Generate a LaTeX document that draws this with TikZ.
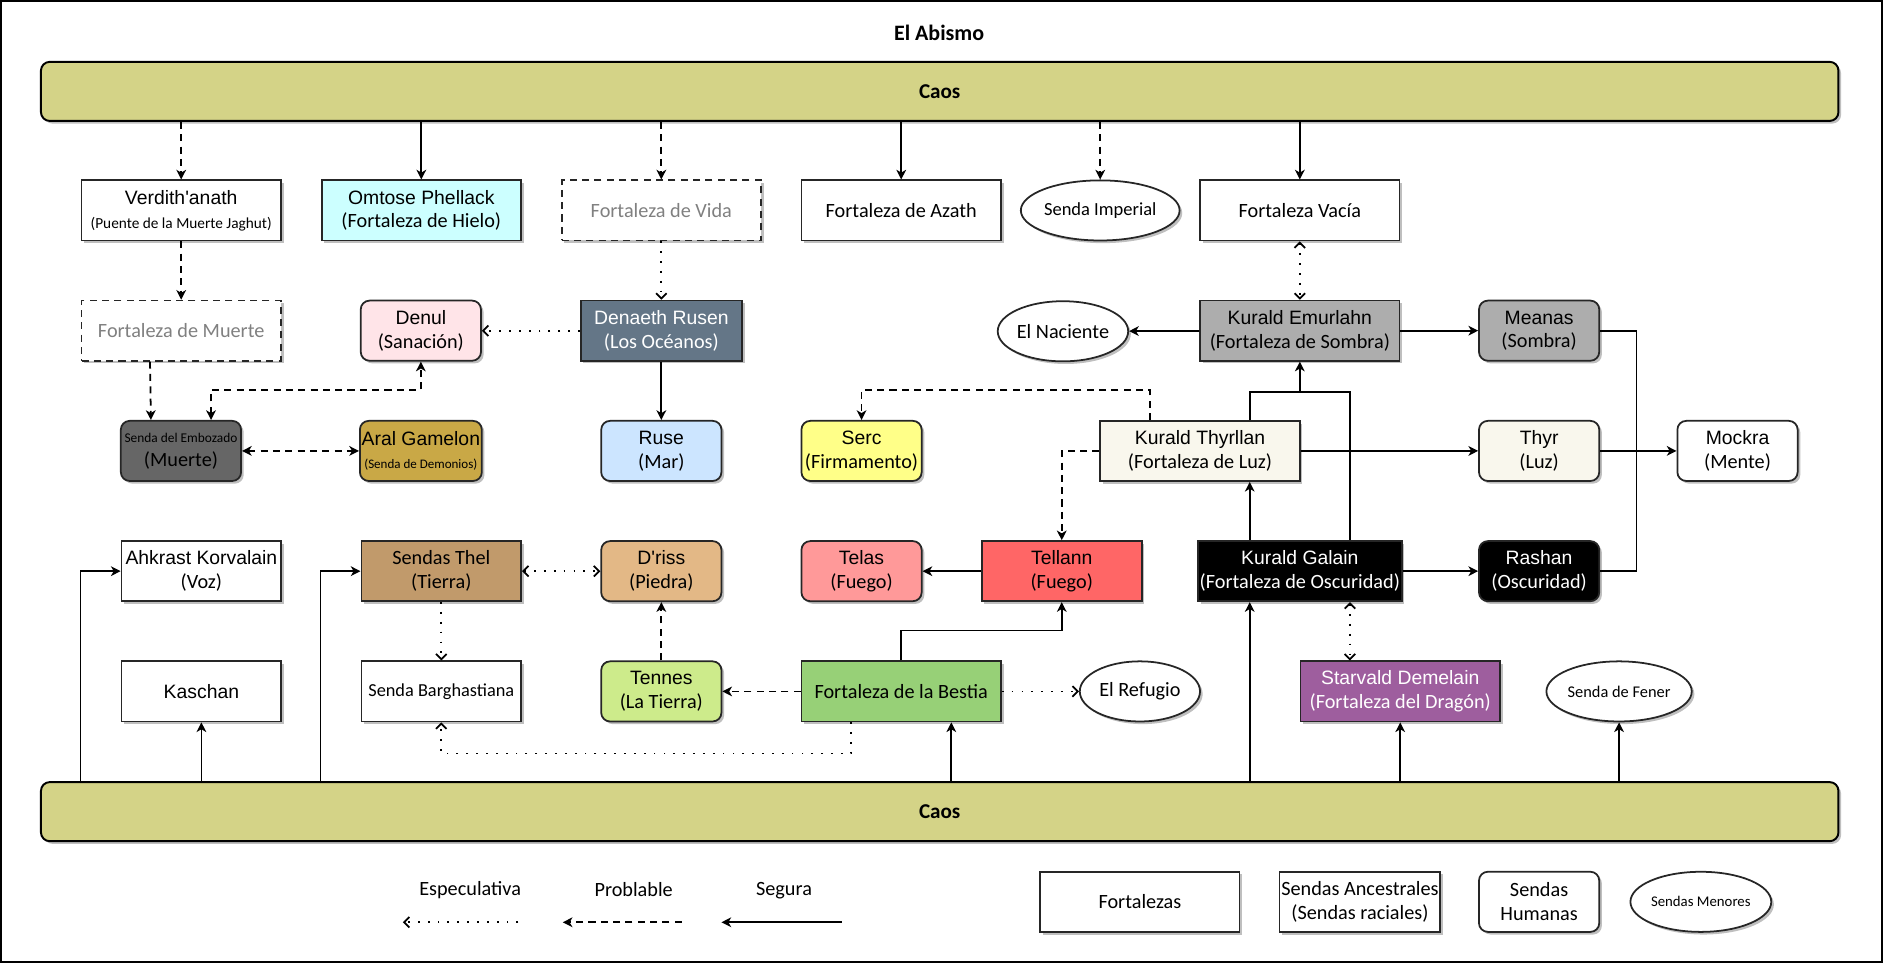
\documentclass[tikz,border=0pt]{standalone}
\usepackage{fontspec}
\setmainfont{Carlito}
\newfontfamily\arialf{Liberation Sans}
\usetikzlibrary{arrows.meta,calc,shapes.geometric,shadows}

\definecolor{caosfill}{HTML}{D4D387}
\definecolor{hielo}{HTML}{CCFFFF}
\definecolor{sanacion}{HTML}{FFE4E8}
\definecolor{oceanos}{HTML}{647687}
\definecolor{sombra}{HTML}{ADADAD}
\definecolor{muertef}{HTML}{666666}
\definecolor{demonios}{HTML}{C9A846}
\definecolor{mar}{HTML}{CCE5FF}
\definecolor{firmamento}{HTML}{FFFF88}
\definecolor{luz}{HTML}{F9F7ED}
\definecolor{tierra}{HTML}{C19A6B}
\definecolor{piedra}{HTML}{E3B886}
\definecolor{fuegoa}{HTML}{FF9999}
\definecolor{fuegob}{HTML}{FF6666}
\definecolor{latierra}{HTML}{CDEB8B}
\definecolor{bestiaf}{HTML}{97D077}
\definecolor{dragon}{HTML}{9E5E9E}
\definecolor{gristexto}{HTML}{808080}

\newcommand{\nom}[1]{{\arialf\fontsize{11}{13.5}\selectfont #1}}
\newcommand{\chico}{\fontsize{8.7}{13.5}\selectfont}

\tikzset{
  >={Stealth[length=5.5pt,width=5.5pt,inset=1.6pt]},
  base/.style={draw=black!85, fill=white, line width=1pt, inner sep=1pt, align=center,
    minimum height=1.2cm, font=\fontsize{11.5}{13.5}\selectfont,
    drop shadow={shadow xshift=1.5pt, shadow yshift=-1.5pt, fill=black, opacity=0.25}},
  fortaleza/.style={base, rectangle, minimum width=3.98cm},
  ancestral/.style={base, rectangle, minimum width=3.19cm},
  humana/.style={base, rectangle, rounded corners=5pt, minimum width=2.4cm},
  menor/.style={base, ellipse, inner sep=0pt, minimum width=2.4cm},
  incierta/.style={dash pattern=on 4pt off 3pt, text=gristexto},
  caos/.style={draw=black, line width=1.1pt, fill=caosfill, rounded corners=5pt,
    minimum width=35.88cm, minimum height=1.18cm, inner sep=0pt,
    font=\bfseries\fontsize{12}{14}\selectfont,
    drop shadow={shadow xshift=1.5pt, shadow yshift=-1.5pt, fill=black, opacity=0.25}},
  linea/.style={draw=black, line width=1pt},
  segura/.style={linea, ->},
  probable/.style={linea, dash pattern=on 4pt off 3pt, ->},
  especulativa/.style={linea, dash pattern=on 1pt off 4.6pt,
    >={Straight Barb[length=3pt,width=6pt]}, ->},
}

\begin{document}
\begin{tikzpicture}[x=0.024cm, y=-0.024cm]
\useasboundingbox (0,0) rectangle (1566,801);
\draw[line width=0.9pt] (1,1) rectangle (1565,800);

\node[font=\bfseries\fontsize{12.5}{14}\selectfont] (titulo) at (781,27) {El Abismo};

% Caos
\node[caos] (caosA) at (781.5,76) {Caos};
\node[caos] (caosB) at (781.5,675) {Caos};

% Fila superior
\node[fortaleza] (verd) at (150.7,175) {\nom{Verdith'anath}\\{\chico (Puente de la Muerte Jaghut)}};
\node[fortaleza, fill=hielo] (omtose) at (350.4,175) {\nom{Omtose Phellack}\\(Fortaleza de Hielo)};
\node[fortaleza, incierta] (vida) at (550,175) {Fortaleza de Vida};
\node[fortaleza] (azath) at (749.5,175) {Fortaleza de Azath};
\node[menor, font=\fontsize{10.5}{13}\selectfont] (imperial) at (915,175) {Senda Imperial};
\node[fortaleza] (vacia) at (1081,175) {Fortaleza Vacía};

% Segunda fila
\node[fortaleza, incierta] (muerte) at (150.7,275) {Fortaleza de Muerte};
\node[humana, fill=sanacion] (denul) at (350,275) {\nom{Denul}\\(Sanación)};
\node[base, rectangle, minimum width=3.22cm, fill=oceanos, text=white] (denaeth) at (550,275) {\nom{Denaeth Rusen}\\(Los Océanos)};
\node[menor, minimum width=2.35cm] (naciente) at (884,275.5) {El Naciente};
\node[fortaleza, fill=sombra] (emur) at (1081,275) {\nom{Kurald Emurlahn}\\(Fortaleza de Sombra)};
\node[humana, fill=sombra] (meanas) at (1280,275) {\nom{Meanas}\\(Sombra)};

% Tercera fila
\node[humana, fill=muertef] (emboz) at (150.5,375) {{\fontsize{7.6}{13.5}\selectfont Senda del Embozado}\\(Muerte)};
\node[humana, fill=demonios] (aral) at (350,375) {\nom{Aral Gamelon}\\{\fontsize{7.4}{13.5}\selectfont (Senda de Demonios)}};
\node[humana, fill=mar] (ruse) at (550,375) {\nom{Ruse}\\(Mar)};
\node[humana, fill=firmamento] (serc) at (716.5,375) {\nom{Serc}\\(Firmamento)};
\node[fortaleza, fill=luz] (thyrl) at (998,375) {\nom{Kurald Thyrllan}\\(Fortaleza de Luz)};
\node[humana, fill=luz] (thyr) at (1280,375) {\nom{Thyr}\\(Luz)};
\node[humana] (mockra) at (1445,375) {\nom{Mockra}\\(Mente)};

% Cuarta fila
\node[ancestral] (ahkr) at (167.5,475) {\nom{Ahkrast Korvalain}\\(Voz)};
\node[ancestral, fill=tierra] (thel) at (367,475) {Sendas Thel\\(Tierra)};
\node[humana, fill=piedra] (driss) at (550,475) {\nom{D'riss}\\(Piedra)};
\node[humana, fill=fuegoa] (telas) at (716.5,475) {\nom{Telas}\\(Fuego)};
\node[ancestral, fill=fuegob] (tellann) at (883,475) {\nom{Tellann}\\(Fuego)};
\node[fortaleza, fill=black, text=white] (galain) at (1081,475) {\nom{Kurald Galain}\\(Fortaleza de Oscuridad)};
\node[humana, fill=black, text=white] (rashan) at (1280,475) {\nom{Rashan}\\(Oscuridad)};

% Quinta fila
\node[ancestral] (kaschan) at (167.5,575) {\nom{Kaschan}};
\node[ancestral, font=\fontsize{10.4}{13}\selectfont] (barg) at (367,575) {Senda Barghastiana};
\node[humana, fill=latierra] (tennes) at (550,575) {\nom{Tennes}\\(La Tierra)};
\node[fortaleza, fill=bestiaf] (bestia) at (749.5,575) {Fortaleza de la Bestia};
\node[menor] (refugio) at (948,575) {El Refugio};
\node[fortaleza, fill=dragon, text=white] (starv) at (1164.5,575) {\nom{Starvald Demelain}\\(Fortaleza del Dragón)};
\node[menor, font=\fontsize{9.3}{12}\selectfont] (fener) at (1346.5,575) {Senda de Fener};

% Desde el Caos superior
\draw[probable] (caosA.south -| verd) -- (verd);
\draw[segura] (caosA.south -| omtose) -- (omtose);
\draw[probable] (caosA.south -| vida) -- (vida);
\draw[segura] (caosA.south -| azath) -- (azath);
\draw[probable] (caosA.south -| imperial) -- (imperial);
\draw[segura] (caosA.south -| vacia) -- (vacia);

\draw[probable] (verd) -- (muerte);
\draw[especulativa] (vida) -- (denaeth);
\draw[especulativa, <->] (vacia) -- (emur);
\draw[especulativa] (denaeth) -- (denul);
\draw[segura] (denaeth) -- (ruse);

\draw[probable] (muerte.south -| emboz.north west) ++(0.6cm,0) -- ([xshift=-0.6cm]emboz.north);
\draw[probable, <->] ([xshift=0.6cm]emboz.north) -- ++(0,0.6cm) -| (denul.south);
\draw[probable, <->] (emboz) -- (aral);

\draw[segura] (emur) -- (naciente);
\draw[segura] (emur) -- (meanas);

% Luz, Sombra y Oscuridad
\coordinate (junta) at ($(emur.south)+(0,-0.6cm)$);
\draw[linea] ([xshift=1.0cm]thyrl.north) |- (junta) -| ([xshift=1.0cm]galain.north);
\draw[segura] (junta) -- (emur.south);
\draw[segura] ([xshift=-1.0cm]galain.north) -- ([xshift=-1.0cm]galain.north |- thyrl.south);
\draw[probable] ([xshift=-1.0cm]thyrl.north) -- ++(0,0.6cm) -| (serc.north);
\draw[probable] (thyrl.west) -| (tellann.north);
\draw[segura] (thyrl) -- (thyr);
\draw[segura] (galain) -- (rashan);
\draw[especulativa, <->] ([xshift=1.0cm]galain.south) -- ([xshift=1.0cm]galain.south |- starv.north);

% Mockra
\coordinate (mente) at ($(mockra.west)+(-0.8cm,0)$);
\draw[linea] (meanas.east) -| (mente);
\draw[linea] (rashan.east) -| (mente);
\draw[segura] (thyr) -- (mockra);

% Fuego y Tierra
\draw[segura] (tellann) -- (telas);
\draw[segura] (bestia.north) -- ++(0,0.6cm) -| (tellann.south);
\draw[probable] (bestia) -- (tennes);
\draw[especulativa] (bestia) -- (refugio);
\draw[especulativa] ([xshift=-1.0cm]bestia.south) -- ++(0,-0.62cm) -| (barg.south);
\draw[probable] (tennes) -- (driss);
\draw[especulativa, <->] (thel) -- (driss);
\draw[especulativa] (thel) -- (barg);

% Desde el Caos inferior
\draw[segura] ([xshift=-0.8cm]ahkr.west |- caosB.north) |- (ahkr.west);
\draw[segura] (caosB.north -| kaschan) -- (kaschan);
\draw[segura] ([xshift=-0.8cm]thel.west |- caosB.north) |- (thel.west);
\draw[segura] ([xshift=1.0cm]bestia.south |- caosB.north) -- ([xshift=1.0cm]bestia.south);
\draw[segura] ([xshift=-1.0cm]galain.south |- caosB.north) -- ([xshift=-1.0cm]galain.south);
\draw[segura] (caosB.north -| starv) -- (starv);
\draw[segura] (caosB.north -| fener) -- (fener);

% Leyenda
\node[font=\fontsize{11.5}{13.5}\selectfont] (tesp) at (391,740) {Especulativa};
\node[font=\fontsize{11.5}{13.5}\selectfont] (tpro) at (527,740) {Problable};
\node[font=\fontsize{11.5}{13.5}\selectfont] (tseg) at (652,741) {Segura};
\coordinate (esp1) at (431,767);
\coordinate (esp2) at (335,767);
\coordinate (pro1) at (567,767);
\coordinate (pro2) at (468,767);
\coordinate (seg1) at (700,767);
\coordinate (seg2) at (600,767);
\draw[especulativa] (esp1) -- (esp2);
\draw[probable] (pro1) -- (pro2);
\draw[segura] (seg1) -- (seg2);

\node[fortaleza] (fortl) at (948,750) {Fortalezas};
\node[ancestral] (ancl) at (1131,750) {Sendas Ancestrales\\(Sendas raciales)};
\node[humana] (huml) at (1280,750) {Sendas\\Humanas};
\node[menor, font=\fontsize{8.4}{12}\selectfont] (menl) at (1414.5,750) {Sendas Menores};
\end{tikzpicture}
\end{document}
